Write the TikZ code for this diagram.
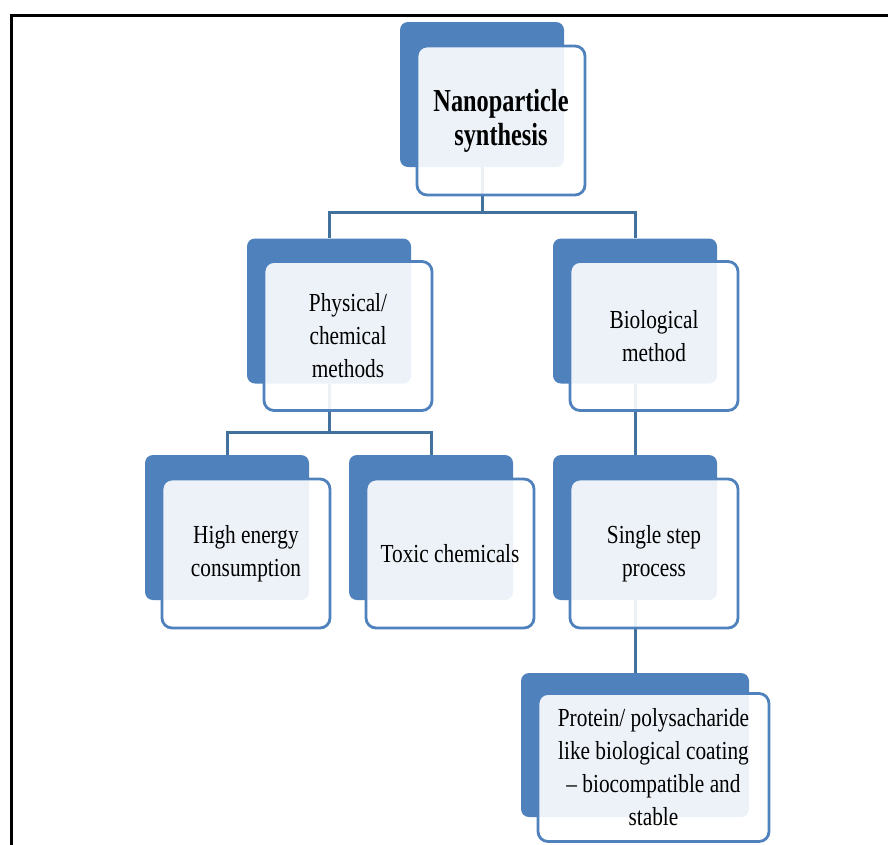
\documentclass[tikz,border=0pt]{standalone}
\usepackage{fontspec}
\setmainfont[FakeStretch=0.82]{Liberation Serif}
\newfontfamily\titlefont[FakeStretch=0.76]{Liberation Serif}
\usetikzlibrary{calc}
\definecolor{smartblue}{HTML}{4F81BD}
\definecolor{linkblue}{HTML}{41719C}

\begin{document}
\begin{tikzpicture}[x=1pt,y=-1pt,
        backbox/.style={fill=smartblue,rounded corners=8pt,inner sep=0pt,
            minimum width=164pt,minimum height=145pt},
        frontbox/.style={draw=smartblue,line width=2.8pt,fill=white,fill opacity=0.9,
            text opacity=1,rounded corners=10pt,inner sep=0pt,align=center,
            minimum width=168pt,minimum height=149pt,
            font=\fontsize{26}{33}\selectfont},
        link/.style={draw=linkblue,line width=3pt}]
                \path[use as bounding box] (0,0) rectangle (888,844);
                \clip (0,0) rectangle (888,844);

                \draw[line width=3pt] (11,860) |- (900,15);

                \node[backbox] (top-b)    at (482,94.5) {};
                \node[backbox] (phys-b)   at (329,311) {};
                \node[backbox] (bio-b)    at (635,311) {};
                \node[backbox] (high-b)   at (227,527.5) {};
                \node[backbox] (toxic-b)  at (431,527.5) {};
                \node[backbox] (single-b) at (635,527.5) {};
                \node[backbox,minimum width=228pt,minimum height=144pt] (prot-b) at (635,745) {};

                \draw[link] (top-b.south) |- ([yshift=26pt]phys-b.north) -- (phys-b.north);
                \draw[link] (top-b.south) |- ([yshift=26pt]bio-b.north) -- (bio-b.north);
                \draw[link] (phys-b.south) |- ([yshift=22pt]high-b.north) -- (high-b.north);
                \draw[link] (phys-b.south) |- ([yshift=22pt]toxic-b.north) -- (toxic-b.north);
                \draw[link] (bio-b.south) -- (single-b.north);
                \draw[link] (single-b.south) -- (prot-b.north);

                \node[frontbox,font=\titlefont\bfseries\fontsize{32}{34}\selectfont] (top) at ($(top-b)+(19,26)$) {Nanoparticle\\synthesis};
                \node[frontbox] (phys)   at ($(phys-b)+(19,25)$) {Physical/\\chemical\\methods};
                \node[frontbox] (bio)    at ($(bio-b)+(19,25)$) {Biological\\method};
                \node[frontbox] (high)   at ($(high-b)+(19,26)$) {High energy\\consumption};
                \node[frontbox] (toxic)  at ($(toxic-b)+(19,26)$) {Toxic chemicals};
                \node[frontbox] (single) at ($(single-b)+(19,26)$) {Single step\\process};
                \node[frontbox,minimum width=231pt,minimum height=148pt] (prot) at ($(prot-b)+(18.5,22.5)$) {Protein/ polysacharide\\like biological coating\\-- biocompatible and\\stable};
            \end{tikzpicture}
\end{document}
